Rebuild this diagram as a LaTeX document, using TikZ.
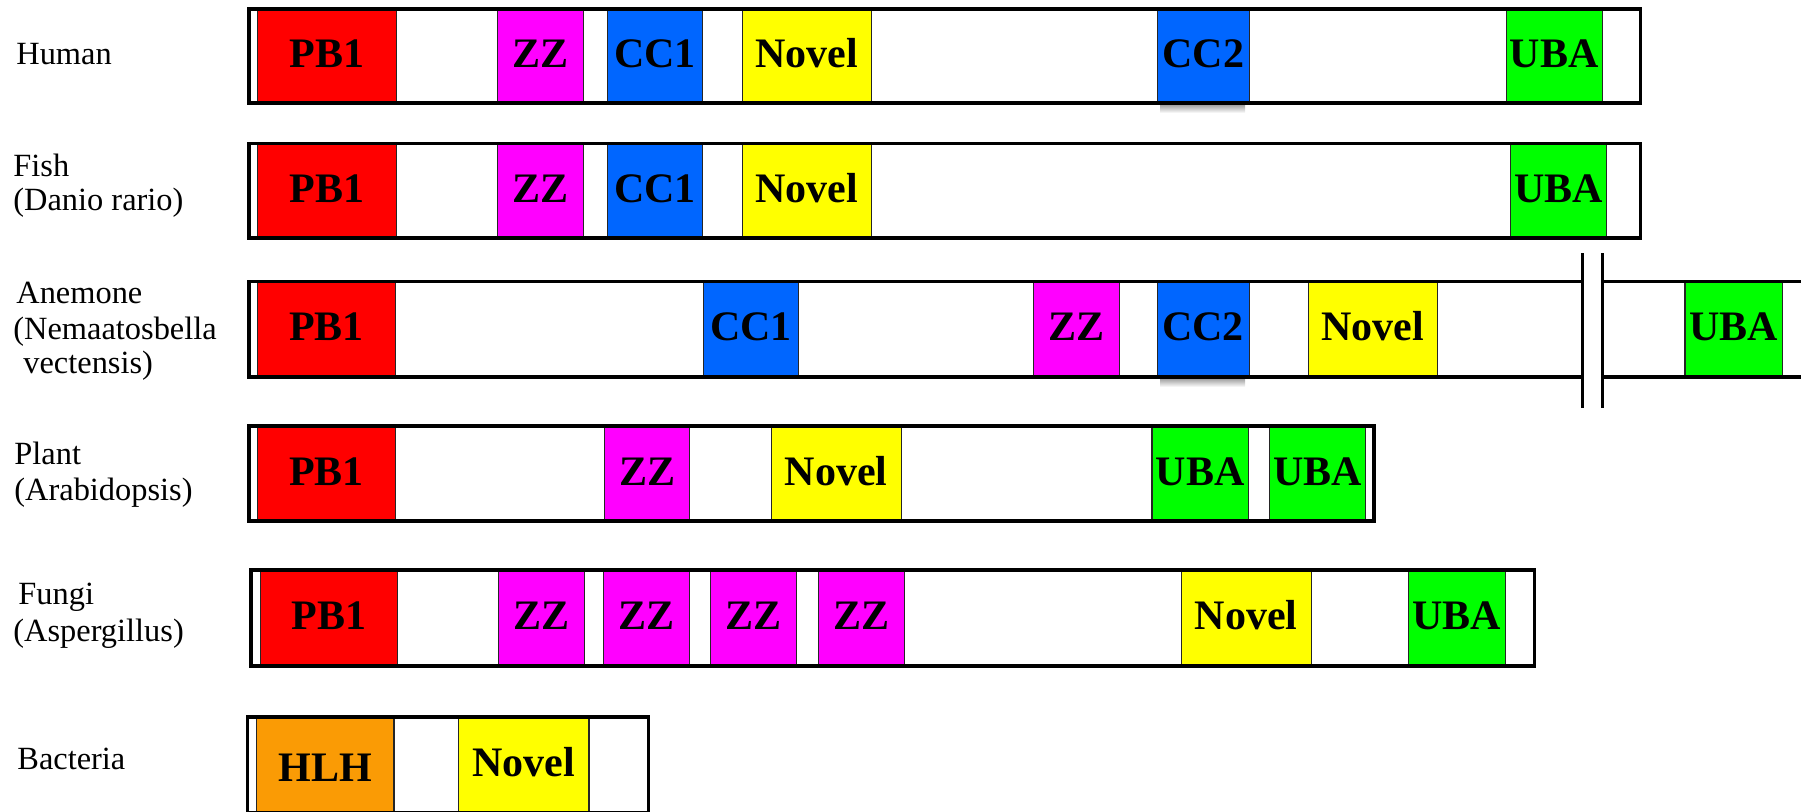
\documentclass[tikz,border=0pt]{standalone}
\usepackage{fontspec}
\setmainfont{Liberation Serif}
\newcommand\labfont{\fontsize{16.2pt}{18pt}\selectfont}
\newcommand\domfont{\fontsize{21pt}{24pt}\selectfont\bfseries}
\definecolor{pbred}{RGB}{255,0,0}
\definecolor{zzmag}{RGB}{255,0,255}
\definecolor{ccblue}{RGB}{0,102,255}
\definecolor{novyel}{RGB}{255,255,0}
\definecolor{ubagreen}{RGB}{0,255,0}
\definecolor{hlhorange}{RGB}{250,155,5}
\tikzset{
  dom/.style={draw=black!85, line width=0.6pt, inner sep=0pt, font=\domfont,
    text height=14pt, text depth=3pt},
  pb/.style={fill=pbred}, zz/.style={fill=zzmag}, cc/.style={fill=ccblue},
  nov/.style={fill=novyel}, uba/.style={fill=ubagreen}, hlh/.style={fill=hlhorange},
  bar/.style={draw=black, line width=1.7pt},
  breakline/.style={draw=black, line width=1.4pt},
  lab/.style={anchor=base west, inner sep=0pt, font=\labfont},
  shadowbox/.style={top color=black!40, bottom color=white, draw=none}
}
% [opts]{name}{x1}{x2}{ytop}{ybot}{style}{text}
\newcommand\dombox[8][]{%
  \node[dom, #7, #1, anchor=north west,
    minimum width={(#4-#3)*0.5pt}, minimum height={(#6-#5)*0.5pt}]
    (#2) at (#3,#5) {#8};}
\begin{document}
\begin{tikzpicture}[x=0.5pt, y=-0.5pt]
\useasboundingbox (0,0) rectangle (1801,811);
\clip (0,0) rectangle (1801,811);

% ---------- labels ----------
\node[lab] (lhuman) at (16,64) {Human};
\node[lab] (lfish) at (13,176.7) {Fish};
\node[lab] (lfish2) at (13,210.7) {(Danio rario)};
\node[lab] (lanem) at (16,303) {Anemone};
\node[lab] (lanem2) at (13,339) {(Nemaatosbella};
\node[lab] (lanem3) at (23,373) {vectensis)};
\node[lab] (lplant) at (14,464) {Plant};
\node[lab] (lplant2) at (14,500) {(Arabidopsis)};
\node[lab] (lfungi) at (18,604) {Fungi};
\node[lab] (lfungi2) at (13,641.7) {(Aspergillus)};
\node[lab] (lbact) at (17,769) {Bacteria};

% ---------- Human ----------
\shade[shadowbox] (1160,104) rectangle (1245,113);
\dombox{h1}{257}{396}{9}{103}{pb}{PB1}
\dombox{h2}{497}{583}{9}{103}{zz}{ZZ}
\dombox{h3}{607}{702}{9}{103}{cc}{CC1}
\dombox{h4}{741.7}{871}{9}{103}{nov}{Novel}
\dombox{h5}{1156.7}{1248.5}{9}{103}{cc}{CC2}
\dombox{h6}{1505.6}{1601.5}{9}{103}{uba}{UBA}
\draw[bar] (249,9) rectangle (1640.5,103);

% ---------- Fish ----------
\dombox{f1}{257}{396}{143.5}{238}{pb}{PB1}
\dombox{f2}{497}{583}{143.5}{238}{zz}{ZZ}
\dombox{f3}{607}{702}{143.5}{238}{cc}{CC1}
\dombox{f4}{741.7}{871}{143.5}{238}{nov}{Novel}
\dombox{f5}{1509.6}{1606}{143.5}{238}{uba}{UBA}
\draw[bar] (249,143.5) rectangle (1640.5,238);

% ---------- Anemone ----------
\shade[shadowbox] (1160,378) rectangle (1245,387);
\dombox{a1}{257}{395}{281.5}{377}{pb}{PB1}
\dombox{a2}{703}{798}{281.5}{377}{cc}{CC1}
\dombox{a3}{1033}{1119}{281.5}{377}{zz}{ZZ}
\dombox{a4}{1156.6}{1248.5}{281.5}{377}{cc}{CC2}
\dombox{a5}{1307.6}{1436.7}{281.5}{377}{nov}{Novel}
\dombox{a6}{1684.3}{1781.7}{281.5}{377}{uba}{UBA}
\draw[bar] (1582,281.5) -- (249,281.5) -- (249,377) -- (1582,377);
\draw[bar] (1830,281.5) -- (1603,281.5);
\draw[bar] (1830,377) -- (1603,377);
\coordinate (brk1t) at (1582.7,253);
\coordinate (brk1b) at (1582.7,408);
\coordinate (brk2t) at (1602.7,253);
\coordinate (brk2b) at (1602.7,408);
\draw[breakline] (brk1t) -- (brk1b);
\draw[breakline] (brk2t) -- (brk2b);

% ---------- Plant ----------
\dombox{p1}{257}{395}{426}{521}{pb}{PB1}
\dombox{p2}{604}{689}{426}{521}{zz}{ZZ}
\dombox{p3}{770.7}{900.5}{426}{521}{nov}{Novel}
\dombox{p4}{1151.4}{1248}{426}{521}{uba}{UBA}
\dombox{p5}{1268.5}{1365}{426}{521}{uba}{UBA}
\draw[bar] (249,426) rectangle (1374,521);

% ---------- Fungi ----------
\dombox{g1}{259.5}{397}{570}{666}{pb}{PB1}
\dombox{g2}{498}{584}{570}{666}{zz}{ZZ}
\dombox{g3}{603}{689}{570}{666}{zz}{ZZ}
\dombox{g4}{710}{796}{570}{666}{zz}{ZZ}
\dombox{g5}{818}{904}{570}{666}{zz}{ZZ}
\dombox{g6}{1180.8}{1310.6}{570}{666}{nov}{Novel}
\dombox{g7}{1407.5}{1505}{570}{666}{uba}{UBA}
\draw[bar] (251,570) rectangle (1534.5,666);

% ---------- Bacteria ----------
\dombox[text height=18pt, text depth=2pt]{b1}{256}{393.3}{717}{813}{hlh}{HLH}
\dombox{b2}{457.7}{588.3}{717}{813}{nov}{Novel}
\draw[bar] (247.3,717) rectangle (648.3,813);
\end{tikzpicture}
\end{document}
